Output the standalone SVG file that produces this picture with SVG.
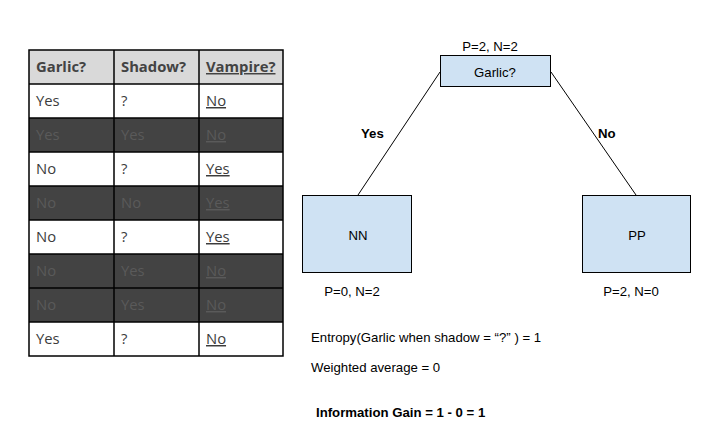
<svg xmlns="http://www.w3.org/2000/svg" width="719" height="441" viewBox="0 0 719 441">
<style>
.t{font-family:"Open Sans","Liberation Sans",sans-serif;font-size:14.8px;fill:#3c3c3c}
.th{font-weight:bold;fill:#434343}
.td{fill:#5a5a5a}
.u{text-decoration:underline}
.a{font-family:"Liberation Sans",Arial,sans-serif;font-size:13.2px;fill:#000}
.b{font-weight:bold}
.box{fill:#cfe2f3;stroke:#000;stroke-width:1}
.ln{stroke:#000;stroke-width:1;fill:none}
.grid{stroke:#000;stroke-width:1.5;fill:none}
</style>
<rect width="719" height="441" fill="#fff"/>
<g id="table">
<rect x="29" y="50" width="254" height="34" fill="#d9d9d9"/>
<rect x="29" y="118" width="254" height="34" fill="#434343"/>
<rect x="29" y="186" width="254" height="34" fill="#434343"/>
<rect x="29" y="254" width="254" height="68" fill="#434343"/>
<g class="grid">
<rect x="29" y="50" width="254" height="306"/>
<line x1="114" y1="50" x2="114" y2="356"/>
<line x1="199" y1="50" x2="199" y2="356"/>
<line x1="29" y1="84" x2="283" y2="84"/>
<line x1="29" y1="118" x2="283" y2="118"/>
<line x1="29" y1="152" x2="283" y2="152"/>
<line x1="29" y1="186" x2="283" y2="186"/>
<line x1="29" y1="220" x2="283" y2="220"/>
<line x1="29" y1="254" x2="283" y2="254"/>
<line x1="29" y1="288" x2="283" y2="288"/>
<line x1="29" y1="322" x2="283" y2="322"/>
</g>
<text class="t th" x="36" y="72">Garlic?</text>
<text class="t th" x="121" y="72">Shadow?</text>
<text class="t th u" x="206" y="72">Vampire?</text>
<text class="t" x="36" y="106">Yes</text><text class="t" x="121" y="106">?</text><text class="t u" x="206" y="106">No</text>
<text class="t td" x="36" y="140">Yes</text><text class="t td" x="121" y="140">Yes</text><text class="t td u" x="206" y="140">No</text>
<text class="t" x="36" y="174">No</text><text class="t" x="121" y="174">?</text><text class="t u" x="206" y="174">Yes</text>
<text class="t td" x="36" y="208">No</text><text class="t td" x="121" y="208">No</text><text class="t td u" x="206" y="208">Yes</text>
<text class="t" x="36" y="242">No</text><text class="t" x="121" y="242">?</text><text class="t u" x="206" y="242">Yes</text>
<text class="t td" x="36" y="276">No</text><text class="t td" x="121" y="276">Yes</text><text class="t td u" x="206" y="276">No</text>
<text class="t td" x="36" y="310">No</text><text class="t td" x="121" y="310">Yes</text><text class="t td u" x="206" y="310">No</text>
<text class="t" x="36" y="344">Yes</text><text class="t" x="121" y="344">?</text><text class="t u" x="206" y="344">No</text>
</g>
<g id="connectors">
<line class="ln" x1="440" y1="72" x2="358" y2="195"/>
<line class="ln" x1="551" y1="72" x2="636" y2="195"/>
<text class="a b" x="361" y="138">Yes</text>
<text class="a b" x="598" y="138">No</text>
</g>
<g id="node-garlic">
<rect class="box" x="440.5" y="55.5" width="110" height="31"/>
<text class="a" x="495" y="76.5" text-anchor="middle">Garlic?</text>
<text class="a" x="490" y="51" text-anchor="middle">P=2, N=2</text>
</g>
<g id="node-nn">
<rect class="box" x="302.5" y="195.5" width="109" height="77"/>
<text class="a" x="358" y="239.5" text-anchor="middle">NN</text>
<text class="a" x="352" y="296" text-anchor="middle">P=0, N=2</text>
</g>
<g id="node-pp">
<rect class="box" x="582.5" y="195.5" width="108" height="77"/>
<text class="a" x="637" y="239.5" text-anchor="middle">PP</text>
<text class="a" x="631" y="296" text-anchor="middle">P=2, N=0</text>
</g>
<g id="notes">
<text class="a" x="311" y="342">Entropy(Garlic when shadow = “?” ) = 1</text>
<text class="a" x="311" y="372">Weighted average = 0</text>
<text class="a b" x="316" y="417">Information Gain = 1 - 0 = 1</text>
</g>
</svg>
